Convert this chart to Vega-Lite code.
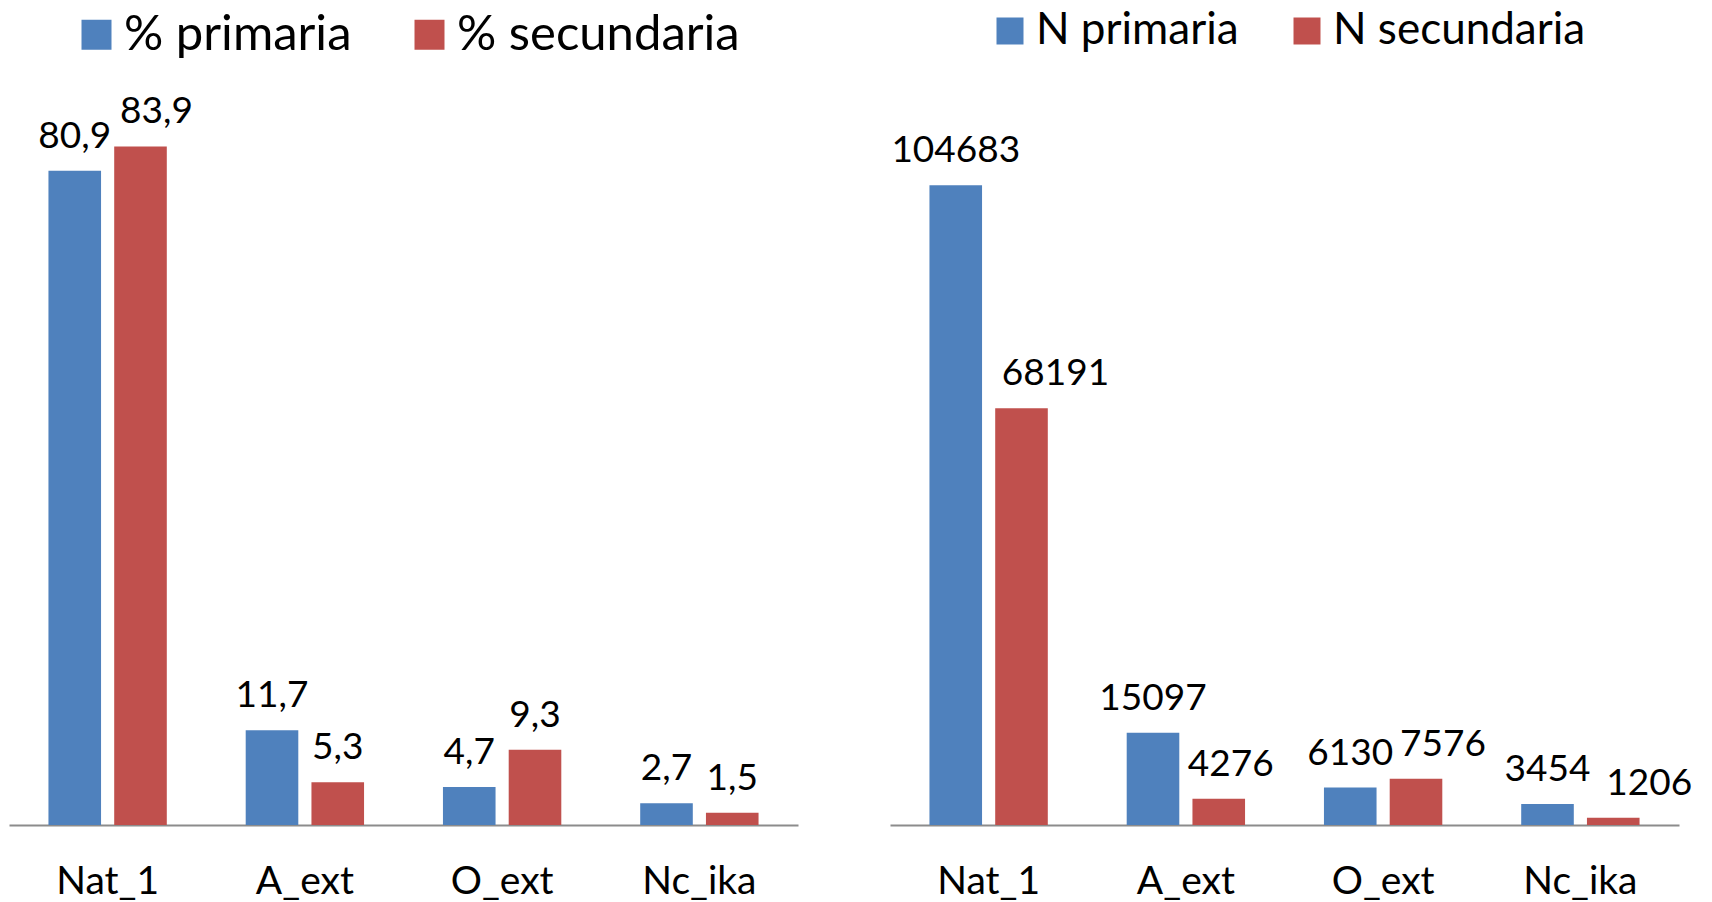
{
  "$schema": "https://vega.github.io/schema/vega-lite/v6.json",
  "padding": {"left": 9, "top": 0, "right": 0, "bottom": 0},
  "background": "#ffffff",
  "datasets": {
    "pct": [
      {"cat": "Nat_1", "serie": "% primaria", "v": 80.9},
      {"cat": "Nat_1", "serie": "% secundaria", "v": 83.9},
      {"cat": "A_ext", "serie": "% primaria", "v": 11.7},
      {"cat": "A_ext", "serie": "% secundaria", "v": 5.3},
      {"cat": "O_ext", "serie": "% primaria", "v": 4.7},
      {"cat": "O_ext", "serie": "% secundaria", "v": 9.3},
      {"cat": "Nc_ika", "serie": "% primaria", "v": 2.7},
      {"cat": "Nc_ika", "serie": "% secundaria", "v": 1.5}
    ],
    "n": [
      {"cat": "Nat_1", "serie": "N primaria", "v": 104683},
      {"cat": "Nat_1", "serie": "N secundaria", "v": 68191},
      {"cat": "A_ext", "serie": "N primaria", "v": 15097},
      {"cat": "A_ext", "serie": "N secundaria", "v": 4276},
      {"cat": "O_ext", "serie": "N primaria", "v": 6130},
      {"cat": "O_ext", "serie": "N secundaria", "v": 7576},
      {"cat": "Nc_ika", "serie": "N primaria", "v": 3454},
      {"cat": "Nc_ika", "serie": "N secundaria", "v": 1206}
    ]
  },
  "spacing": 92,
  "hconcat": [
    {
      "width": 789,
      "height": 825,
      "data": {"name": "pct"},
      "encoding": {
        "x": {"field": "cat", "type": "nominal", "sort": ["Nat_1", "A_ext", "O_ext", "Nc_ika"],
              "scale": {"paddingInner": 0.4, "paddingOuter": 0.2}, "axis": {"title": null}},
        "xOffset": {"field": "serie", "type": "nominal", "sort": ["% primaria", "% secundaria"],
                    "scale": {"paddingInner": 0.2, "paddingOuter": 0}},
        "y": {"field": "v", "type": "quantitative", "scale": {"domain": [0, 102], "nice": false}, "axis": null}
      },
      "layer": [
        {
          "mark": {"type": "bar"},
          "encoding": {
            "color": {"field": "serie", "type": "nominal",
                      "scale": {"domain": ["% primaria", "% secundaria"], "range": ["#4F81BD", "#C0504D"]},
                      "legend": {"orient": "none", "legendX": 63, "legendY": 10, "direction": "horizontal",
                                 "title": null, "symbolType": "square", "symbolSize": 900, "symbolStrokeWidth": 0,
                                 "labelFontSize": 49, "labelFont": "Lato", "labelColor": "#000000",
                                 "labelOffset": 3, "columnPadding": 53, "padding": 0, "labelLimit": 500}}
          }
        },
        {
          "mark": {"type": "text", "font": "Lato", "fontSize": 37, "baseline": "alphabetic", "align": "center",
                   "dy": -23, "color": "#000000",
                   "dx": {"expr": "datum.cat === 'Nat_1' && datum.serie === '% secundaria' ? 16 : 0"}},
          "encoding": {"text": {"field": "v", "type": "quantitative", "format": ".1f"}}
        }
      ]
    },
    {
      "width": 789,
      "height": 825,
      "data": {"name": "n"},
      "encoding": {
        "x": {"field": "cat", "type": "nominal", "sort": ["Nat_1", "A_ext", "O_ext", "Nc_ika"],
              "scale": {"paddingInner": 0.4, "paddingOuter": 0.2}, "axis": {"title": null}},
        "xOffset": {"field": "serie", "type": "nominal", "sort": ["N primaria", "N secundaria"],
                    "scale": {"paddingInner": 0.2, "paddingOuter": 0}},
        "y": {"field": "v", "type": "quantitative", "scale": {"domain": [0, 135000], "nice": false}, "axis": null}
      },
      "layer": [
        {
          "mark": {"type": "bar"},
          "encoding": {
            "color": {"field": "serie", "type": "nominal",
                      "scale": {"domain": ["N primaria", "N secundaria"], "range": ["#4F81BD", "#C0504D"]},
                      "legend": {"orient": "none", "legendX": 98, "legendY": 9, "direction": "horizontal",
                                 "title": null, "symbolType": "square", "symbolSize": 729, "symbolStrokeWidth": 0,
                                 "labelFontSize": 44, "labelFont": "Lato", "labelColor": "#000000",
                                 "labelOffset": 4, "columnPadding": 46, "padding": 0, "labelLimit": 500}}
          }
        },
        {
          "mark": {"type": "text", "font": "Lato", "fontSize": 37, "baseline": "alphabetic", "align": "center",
                   "dy": -23, "color": "#000000",
                   "dx": {"expr": "datum.serie === 'N secundaria' ? (datum.cat === 'Nat_1' ? 34 : datum.cat === 'A_ext' ? 12 : datum.cat === 'O_ext' ? 27 : 36) : 0"}},
          "encoding": {"text": {"field": "v", "type": "quantitative", "format": "d"}}
        }
      ]
    }
  ],
  "resolve": {
    "scale": {"x": "independent", "y": "independent", "color": "independent", "xOffset": "independent"},
    "legend": {"color": "independent"}
  },
  "config": {
    "font": "Lato",
    "locale": {"number": {"decimal": ",", "thousands": ".", "grouping": [3], "currency": ["", " €"]}},
    "view": {"stroke": null},
    "axis": {"domainColor": "#8c8c8c", "domainWidth": 2, "ticks": false, "tickSize": 0, "grid": false,
             "labelFontSize": 39, "labelFont": "Lato", "labelColor": "#000000", "labelPadding": 68,
             "labelBaseline": "alphabetic", "labelAngle": 0}
  }
}
